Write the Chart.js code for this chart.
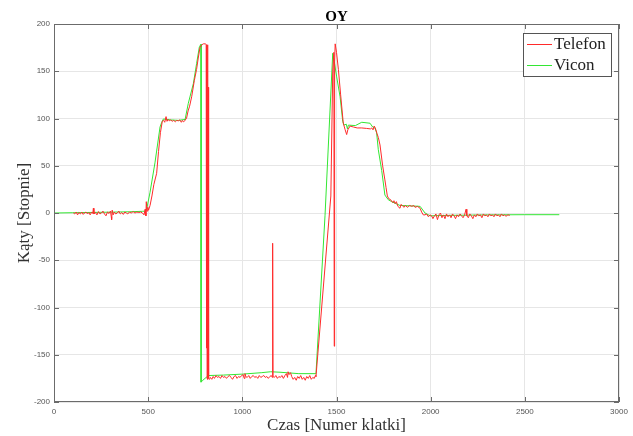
<html>
  <head>
    <title>OY</title>
    <style>
      html, body { margin: 0; padding: 0; background: #fff; }
      #wrap { width: 633px; height: 436px; }
    </style>
  </head>
  <body>
    <div id="wrap"><canvas id="chart-oy"></canvas></div>

    <script src="https://cdn.jsdelivr.net/npm/chart.js@4"></script>
    <script type="text/javascript">
      const chartTitle = 'OY';
      const xTitle = 'Czas [Numer klatki]';
      const yTitle = 'Kąty [Stopnie]';
      const xTicks = [0, 500, 1000, 1500, 2000, 2500, 3000];
      const yTicks = [-200, -150, -100, -50, 0, 50, 100, 150, 200];

      // Telefon: [frame, angle]
      const telefonStart = [
        [103, 0], [110, -1], [118, 1], [125, -2], [132, 0.5], [140, -1], [148, 1], [155, -1.5],
        [162, 0], [170, 1], [178, -1], [185, 0.5], [192, -2], [200, 1], [206, -0.5], [209, 5],
        [212, -1], [220, 0.5], [228, -2], [236, 1.5], [244, -1], [252, 0], [260, 2], [268, -1],
        [276, -3], [284, 1], [292, -0.5], [300, 2], [304, -4], [306, -7], [309, 3], [314, -2],
        [320, 1], [328, -1], [336, 0], [344, 2], [352, -1], [360, 0.5], [368, -1.5], [376, 1],
        [384, 0], [392, -1], [400, 1], [410, 0], [420, 1.5], [430, 0], [440, 1], [450, 0.5],
        [460, 1], [470, 0], [478, -2], [484, 4], [488, -3], [490, 12], [494, 2], [498, 6],
      ];
      const telefonRise = [
        [502, 3], [510, 8], [520, 18], [530, 30], [545, 42], [555, 65], [565, 85], [575, 97],
        [582, 98], [588, 96], [595, 102], [600, 97], [606, 99], [612, 97.5], [620, 98.5],
        [628, 97], [636, 98], [644, 96.5], [652, 98], [660, 97.5], [668, 98.5], [676, 96],
        [682, 98], [687, 96.5], [692, 97], [704, 100.5], [712, 108], [720, 113], [731, 123],
        [745, 140], [757, 152], [766, 164], [775, 175], [785, 178], [793, 179], [805, 179],
        [808, 178], [809, -143], [811, 178], [813, -175], [815, 178], [817, -176], [819, 133],
        [821, -175],
      ];
      const telefonMiddle = [
        [826, -176], [830, -174], [838, -176], [845, -173], [852, -175], [860, -172], [868, -174],
        [876, -173], [884, -175], [892, -172], [900, -174], [908, -173], [916, -175], [924, -173],
        [932, -172], [940, -174], [948, -176], [956, -173], [964, -172], [972, -175], [980, -173],
        [988, -174], [996, -172], [1004, -171], [1010, -175], [1014, -170], [1018, -173],
        [1026, -174], [1034, -172], [1042, -175], [1050, -173], [1058, -172], [1066, -174],
        [1074, -173], [1082, -175], [1090, -172], [1098, -174], [1106, -173], [1114, -172],
        [1122, -174], [1130, -173], [1138, -175], [1146, -173], [1154, -172], [1159, -174],
        [1161, -32], [1163, -173], [1170, -174], [1178, -172], [1186, -175], [1194, -173],
        [1202, -174], [1210, -172], [1218, -175], [1226, -172], [1234, -170], [1240, -174],
        [1243, -168], [1248, -171], [1256, -169], [1262, -173], [1270, -176], [1278, -174],
        [1286, -177], [1294, -173], [1302, -175], [1310, -172], [1318, -176], [1326, -174],
        [1334, -177], [1342, -173], [1350, -175], [1358, -172], [1366, -176], [1374, -174],
        [1382, -175], [1388, -172], [1391, -173],
      ];
      const telefonPeak = [
        [1470, 18], [1480, 150], [1486, 170], [1488, -141], [1490, 160], [1493, 179], [1500, 170],
        [1510, 152], [1522, 125], [1536, 95], [1546, 88], [1554, 83], [1560, 88], [1572, 92],
        [1590, 91], [1610, 90], [1634, 90], [1660, 89.5], [1680, 89], [1687, 90], [1694, 88],
        [1700, 92], [1706, 90], [1715, 84], [1722, 80], [1731, 72], [1745, 50], [1757, 35],
        [1763, 27], [1770, 18], [1778, 15], [1788, 14], [1798, 11], [1805, 13], [1811, 10],
        [1818, 12], [1826, 7], [1837, 5], [1842, 9], [1850, 8], [1858, 6], [1866, 8], [1876, 6],
        [1888, 8], [1900, 7], [1910, 8], [1917, 6], [1930, 7], [1944, 5], [1952, 1], [1961, -2],
      ];
      const telefonEnd = [
        [1970, -2], [1978, -1], [1988, -4], [1996, -2], [2005, -3], [2012, -6], [2020, -3],
        [2028, -1], [2036, -7], [2044, -2], [2052, 0], [2060, -5], [2068, -2], [2076, -6],
        [2084, -1], [2092, -4], [2100, -2], [2108, -5], [2116, -1], [2124, -3], [2132, -6],
        [2140, -2], [2148, -4], [2156, -1], [2164, -3], [2172, -5], [2180, -2], [2188, 4],
        [2192, -3], [2200, -5], [2208, -1], [2216, -3], [2224, -6], [2232, -2], [2240, -4],
        [2248, -1], [2256, -3], [2264, -2], [2272, -5], [2280, -1], [2288, -3], [2296, -2],
        [2304, -4], [2312, -1], [2320, -3], [2328, -2], [2336, -4], [2344, -1], [2352, -3],
        [2360, -2], [2368, -4], [2376, -1], [2384, -3], [2392, -2], [2400, -3.5], [2410, -2],
        [2420, -2.5],
      ];

      // Vicon: [frame, angle]
      const vicon = [
        [0, 0], [100, 0.3], [200, 0.6], [300, 0.9], [400, 1.3], [470, 1.8], [483, 2], [492, 4],
        [510, 22], [536, 53], [563, 91], [572, 96], [581, 99.5], [620, 98.5], [660, 98], [696, 99],
        [713, 116], [740, 137], [757, 158], [772, 176], [781, 178.6], [781, -179], [790, -177],
        [820, -172], [900, -171.5], [1000, -170.5], [1100, -169], [1150, -168], [1200, -168.5],
        [1300, -170], [1391, -170], [1439, -3], [1480, 169], [1490, 158], [1501, 144], [1519, 123],
        [1533, 97], [1540, 93], [1552, 94], [1558, 89], [1563, 93], [1600, 92.5], [1634, 96],
        [1678, 95], [1692, 91], [1704, 90], [1713, 85], [1722, 67], [1740, 45], [1757, 19],
        [1775, 14], [1793, 12], [1837, 8], [1900, 7.5], [1944, 7], [1970, 0], [1997, -3],
        [2100, -2.5], [2300, -2], [2500, -1.8], [2683, -1.8],
      ];

      const toPoints = (pairs) => pairs.map(([x, y]) => ({ x, y }));
      const telefon = [].concat(telefonStart, telefonRise, telefonMiddle, telefonPeak, telefonEnd);

      const serif = "'Liberation Serif', 'Times New Roman', serif";
      const sans = "'Liberation Sans', Arial, sans-serif";

      const matlabFrame = {
        id: 'matlabFrame',
        afterDraw(chart) {
          const { ctx, chartArea: a, scales } = chart;
          ctx.save();
          // box with inward ticks
          ctx.strokeStyle = '#6b6b6b';
          ctx.lineWidth = 1;
          ctx.strokeRect(a.left + 0.5, a.top + 0.5, a.right - a.left - 1, a.bottom - a.top - 1);
          ctx.beginPath();
          xTicks.forEach((v) => {
            const px = Math.round(scales.x.getPixelForValue(v)) + 0.5;
            ctx.moveTo(px, a.top);
            ctx.lineTo(px, a.top + 5);
            ctx.moveTo(px, a.bottom);
            ctx.lineTo(px, a.bottom - 5);
          });
          yTicks.forEach((v) => {
            const py = Math.round(scales.y.getPixelForValue(v)) + 0.5;
            ctx.moveTo(a.left, py);
            ctx.lineTo(a.left + 5, py);
            ctx.moveTo(a.right, py);
            ctx.lineTo(a.right - 5, py);
          });
          ctx.stroke();

          // title
          ctx.fillStyle = '#000';
          ctx.font = `bold 15px ${serif}`;
          ctx.textAlign = 'center';
          ctx.textBaseline = 'middle';
          ctx.fillText(chartTitle, (a.left + a.right) / 2, a.top - 7);

          // legend box
          const bw = 88, bh = 43;
          const bx = a.right - 8 - bw, by = a.top + 9;
          ctx.fillStyle = '#fff';
          ctx.fillRect(bx, by, bw, bh);
          ctx.strokeStyle = '#555';
          ctx.strokeRect(bx + 0.5, by + 0.5, bw, bh);
          ctx.font = `17px ${serif}`;
          ctx.textAlign = 'left';
          chart.data.datasets.forEach((ds, i) => {
            const ly = by + 11 + i * 21;
            ctx.strokeStyle = ds.borderColor;
            ctx.beginPath();
            ctx.moveTo(bx + 4, ly + 0.5);
            ctx.lineTo(bx + 29, ly + 0.5);
            ctx.stroke();
            ctx.fillStyle = '#222';
            ctx.fillText(ds.label, bx + 31, ly + 1);
          });
          ctx.restore();
        },
      };

      new Chart(document.getElementById('chart-oy'), {
        type: 'line',
        data: {
          datasets: [
            {
              label: 'Telefon',
              data: toPoints(telefon),
              borderColor: '#ff2a2a',
              borderWidth: 1,
              pointRadius: 0,
              tension: 0,
            },
            {
              label: 'Vicon',
              data: toPoints(vicon),
              borderColor: '#33e633',
              borderWidth: 1,
              pointRadius: 0,
              tension: 0,
            },
          ],
        },
        options: {
          animation: false,
          responsive: true,
          maintainAspectRatio: false,
          layout: { padding: { left: 0, top: 24, right: 14, bottom: 0 } },
          plugins: {
            legend: { display: false },
            title: { display: false },
            tooltip: { enabled: false },
          },
          scales: {
            x: {
              type: 'linear',
              min: 0,
              max: 3000,
              afterFit: (scale) => { scale.height = 34; },
              afterBuildTicks: (scale) => { scale.ticks = xTicks.map((value) => ({ value })); },
              ticks: {
                font: { family: sans, size: 8 },
                color: '#555',
                padding: 5,
                maxRotation: 0,
                callback: (value) => String(value),
              },
              grid: { color: '#e6e6e6', drawTicks: false },
              border: { display: false },
              title: {
                display: true,
                text: xTitle,
                font: { family: serif, size: 17 },
                color: '#333',
                padding: { top: 0, bottom: 0 },
              },
            },
            y: {
              min: -200,
              max: 200,
              afterFit: (scale) => { scale.width = 54; },
              afterBuildTicks: (scale) => { scale.ticks = yTicks.map((value) => ({ value })); },
              ticks: {
                font: { family: sans, size: 8 },
                color: '#555',
                padding: 4,
                callback: (value) => String(value),
              },
              grid: { color: '#e6e6e6', drawTicks: false },
              border: { display: false },
              title: {
                display: true,
                text: yTitle,
                font: { family: serif, size: 17 },
                color: '#333',
                padding: { top: 14, bottom: 0 },
              },
            },
          },
        },
        plugins: [matlabFrame],
      });
    </script>
  </body>
</html>
